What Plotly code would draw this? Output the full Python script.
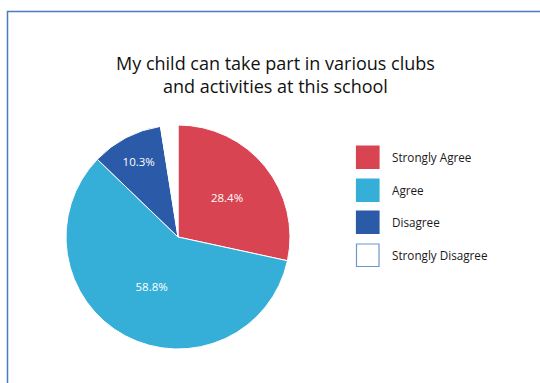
import plotly.graph_objects as go

categories = ["Strongly Agree", "Agree", "Disagree", "Strongly Disagree"]
values = [28.4, 58.8, 10.3, 2.5]
colors = ["#d94452", "#36afd8", "#2a5aa8", "#ffffff"]
title_text = "My child can take part in various clubs<br>and activities at this school"

W, H = 540, 383
labels_txt = [f"{v:.1f}%" if v > 5 else "" for v in values]

fig = go.Figure()
fig.add_trace(go.Pie(
    labels=categories, values=values, sort=False, direction="clockwise",
    rotation=0, marker=dict(colors=colors, line=dict(color="#ffffff", width=1)),
    text=labels_txt, textinfo="text", textposition="inside",
    insidetextorientation="horizontal",
    textfont=dict(family="Open Sans", size=11.5, color="#ffffff"),
    domain=dict(x=[66 / W, 290 / W], y=[(H - 349) / H, (H - 125) / H]),
    showlegend=False, hoverinfo="label+percent",
))

shapes = []
annotations = []
# frame
shapes.append(dict(type="rect", xref="paper", yref="paper",
                   x0=7.5 / W, x1=1.05, y0=-0.05, y1=(H - 11.5) / H,
                   line=dict(color="#4a7bc4", width=1.5), fillcolor="rgba(0,0,0,0)"))
# legend
tops = [146, 179, 211, 244]
for cat, col, t in zip(categories, colors, tops):
    border = "#6f93cf" if col == "#ffffff" else col
    shapes.append(dict(type="rect", xref="paper", yref="paper",
                       x0=356.5 / W, x1=379 / W, y0=(H - t - 22.5) / H, y1=(H - t) / H,
                       fillcolor=col, line=dict(color=border, width=1.2)))
    annotations.append(dict(text=cat, xref="paper", yref="paper",
                            x=390 / W, y=(H - t - 11) / H, xanchor="left", yanchor="middle",
                            showarrow=False,
                            font=dict(family="Open Sans", size=11.7, color="#1a1a1a")))
annotations.append(dict(text=title_text, xref="paper", yref="paper",
                        x=275 / W, y=(H - 75) / H, xanchor="center", yanchor="middle",
                        showarrow=False,
                        font=dict(family="Open Sans", size=18, color="#111111")))

fig.update_layout(width=W, height=H, margin=dict(l=0, r=0, t=0, b=0),
                  paper_bgcolor="#ffffff", plot_bgcolor="#ffffff",
                  shapes=shapes, annotations=annotations)
fig.write_html("out.html", config={"displayModeBar": False},
               post_script="document.body.style.margin='0';document.body.style.overflow='hidden';")
